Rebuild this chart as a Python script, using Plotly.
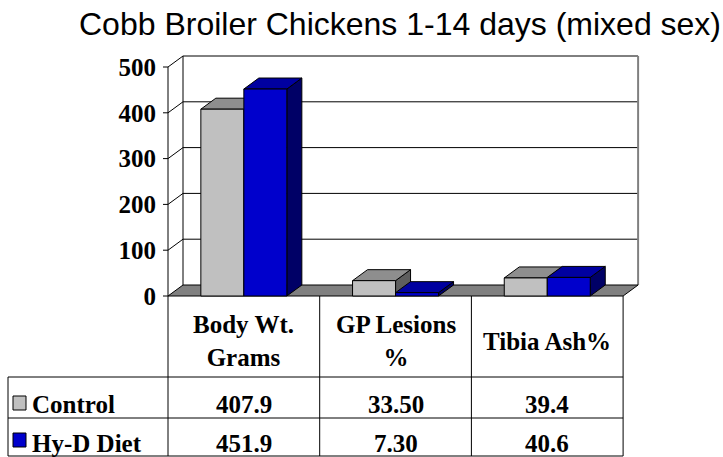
import plotly.graph_objects as go

# data
categories = ["Body Wt.<br>Grams", "GP Lesions<br>%", "Tibia Ash%"]
series_names = ["Control", "Hy-D Diet"]
control = [407.9, 33.50, 39.4]
hy_d = [451.9, 7.30, 40.6]
value_formats = ["{:.1f}", "{:.2f}", "{:.1f}"]
y_ticks = [0, 100, 200, 300, 400, 500]
chart_title = "Cobb Broiler Chickens 1-14 days (mixed sex)"

# colours: front, top, side
control_cols = ["#C0C0C0", "#8E8E8E", "#5E5E5E"]
hy_d_cols = ["#0000CC", "#0000A0", "#000066"]
floor_col = "#808080"

W, H = 723, 457
X_FRONT, CAT_PX = 168, 151.7      # pixel of x=-0.5 and pixels per category
Y_FRONT, UNIT_PX = 296, 0.458     # pixel of y=0 and pixels per unit
DX_PX, DY_PX = 15, 11             # 3d depth in pixels

dxu = DX_PX / CAT_PX
dyu = DY_PX / UNIT_PX
x_lo, x_hi = -0.5 - 9 / CAT_PX, 2.5 + dxu + 4 / CAT_PX
y_lo, y_hi = -4 / UNIT_PX, max(y_ticks) + dyu + 4 / UNIT_PX
px_l = X_FRONT + (x_lo + 0.5) * CAT_PX
px_r = X_FRONT + (x_hi + 0.5) * CAT_PX
py_b = Y_FRONT - y_lo * UNIT_PX
py_t = Y_FRONT - y_hi * UNIT_PX

bw = 43 / CAT_PX
xs = list(range(len(categories)))
ymax = max(y_ticks)
x_left, x_right = -0.5, len(categories) - 0.5

fig = go.Figure()
fig.add_trace(go.Bar(x=xs, y=control, width=bw, offset=-bw, name=series_names[0],
                     marker=dict(color=control_cols[0], line=dict(color="black", width=1))))
fig.add_trace(go.Bar(x=xs, y=hy_d, width=bw, offset=0, name=series_names[1],
                     marker=dict(color=hy_d_cols[0], line=dict(color="black", width=1))))


def poly(pts):
    return "M " + " L ".join(f"{x},{y}" for x, y in pts) + " Z"


shapes = []
# left wall and back wall
shapes.append(dict(type="path", path=poly([(x_left, 0), (x_left, ymax), (x_left + dxu, ymax + dyu), (x_left + dxu, dyu)]),
                   fillcolor="white", line=dict(width=0)))
shapes.append(dict(type="rect", x0=x_left + dxu, x1=x_right + dxu, y0=dyu, y1=ymax + dyu,
                   fillcolor="white", line=dict(width=0)))
for v in y_ticks[1:]:
    shapes.append(dict(type="line", x0=x_left + dxu, x1=x_right + dxu, y0=v + dyu, y1=v + dyu,
                       line=dict(color="black", width=1)))
    shapes.append(dict(type="line", x0=x_left, x1=x_left + dxu, y0=v, y1=v + dyu,
                       line=dict(color="black", width=1)))
shapes.append(dict(type="line", x0=x_left + dxu, x1=x_left + dxu, y0=dyu, y1=ymax + dyu,
                   line=dict(color="black", width=1)))
shapes.append(dict(type="line", x0=x_right + dxu, x1=x_right + dxu, y0=dyu, y1=ymax + dyu,
                   line=dict(color="#808080", width=2)))
# front axis and ticks
shapes.append(dict(type="line", x0=x_left, x1=x_left, y0=0, y1=ymax, line=dict(color="black", width=1)))
for v in y_ticks:
    shapes.append(dict(type="line", x0=x_left - 5 / CAT_PX, x1=x_left, y0=v, y1=v,
                       line=dict(color="black", width=1)))
# floor
shapes.append(dict(type="path", path=poly([(x_left, 0), (x_right, 0), (x_right + dxu, dyu), (x_left + dxu, dyu)]),
                   fillcolor=floor_col, line=dict(color="black", width=1)))
# bar tops and sides
for i in xs:
    for vals, cols, off in ((control, control_cols, -bw), (hy_d, hy_d_cols, 0)):
        x0, x1, v = i + off, i + off + bw, vals[i]
        shapes.append(dict(type="path", path=poly([(x1, 0), (x1, v), (x1 + dxu, v + dyu), (x1 + dxu, dyu)]),
                           fillcolor=cols[2], line=dict(color="black", width=1)))
        shapes.append(dict(type="path", path=poly([(x0, v), (x1, v), (x1 + dxu, v + dyu), (x0 + dxu, v + dyu)]),
                           fillcolor=cols[1], line=dict(color="black", width=1)))
for s in shapes:
    s.update(xref="x", yref="y", layer="below")


# data table below the chart (pixel positions)
def px(x):
    return x / W


def py(y):
    return 1 - y / H


tbl_left, row1, row2, row3 = 8, 377, 418, 456
col_x = [X_FRONT + k * CAT_PX for k in range(len(categories) + 1)]
tline = dict(color="black", width=1)
for k, cx in enumerate(col_x):
    shapes.append(dict(type="line", xref="paper", yref="paper", x0=px(cx), x1=px(cx),
                       y0=py(Y_FRONT), y1=py(row3), line=tline))
shapes.append(dict(type="line", xref="paper", yref="paper", x0=px(tbl_left), x1=px(tbl_left),
                   y0=py(row1), y1=py(row3), line=tline))
for ry in (row1, row2, row3):
    shapes.append(dict(type="line", xref="paper", yref="paper", x0=px(tbl_left), x1=px(col_x[-1]),
                       y0=py(ry), y1=py(ry), line=tline))

tfont = dict(family="Liberation Serif", size=25, color="black", weight="bold")
annotations = []
for i, cat in enumerate(categories):
    cx = (col_x[i] + col_x[i + 1]) / 2
    annotations.append(dict(x=px(cx), y=py(341), text=cat, font=tfont, xanchor="center"))
row_ys = [404, 443]
box_ys = [403, 440]
for name, vals, cols, ry, by in zip(series_names, (control, hy_d), (control_cols, hy_d_cols), row_ys, box_ys):
    shapes.append(dict(type="rect", xref="paper", yref="paper", x0=px(13), x1=px(26),
                       y0=py(by - 7), y1=py(by + 7), fillcolor=cols[0], line=tline))
    annotations.append(dict(x=px(30), y=py(ry), text=name, font=tfont, xanchor="left"))
    for i, v in enumerate(vals):
        cx = (col_x[i] + col_x[i + 1]) / 2
        annotations.append(dict(x=px(cx), y=py(ry), text=value_formats[i].format(v),
                                font=tfont, xanchor="center"))
for a in annotations:
    a.update(xref="paper", yref="paper", showarrow=False, yanchor="middle")

fig.update_layout(
    width=W, height=H,
    margin=dict(l=0, r=0, t=0, b=0, autoexpand=False),
    paper_bgcolor="white", plot_bgcolor="white",
    barmode="overlay", showlegend=False,
    title=dict(text=chart_title, x=400 / W, y=py(24), xanchor="center", yanchor="middle",
               font=dict(family="Liberation Sans", size=32, color="black")),
    xaxis=dict(range=[x_lo, x_hi], domain=[px_l / W, px_r / W], visible=False, fixedrange=True),
    yaxis=dict(range=[y_lo, y_hi], domain=[1 - py_b / H, 1 - py_t / H], tickvals=y_ticks,
               ticks="", showgrid=False, zeroline=False, showline=False, ticklabelstandoff=2,
               automargin=False, fixedrange=True,
               tickfont=dict(family="Liberation Serif", size=25, color="black", weight="bold")),
    shapes=shapes, annotations=annotations,
)
# drop the default page margin so the figure sits at the window's corner
fig.write_html("out.html", config={"displayModeBar": False},
               post_script="document.body.style.margin='0';document.body.style.overflow='hidden';"
                           "document.documentElement.style.overflow='hidden';")
